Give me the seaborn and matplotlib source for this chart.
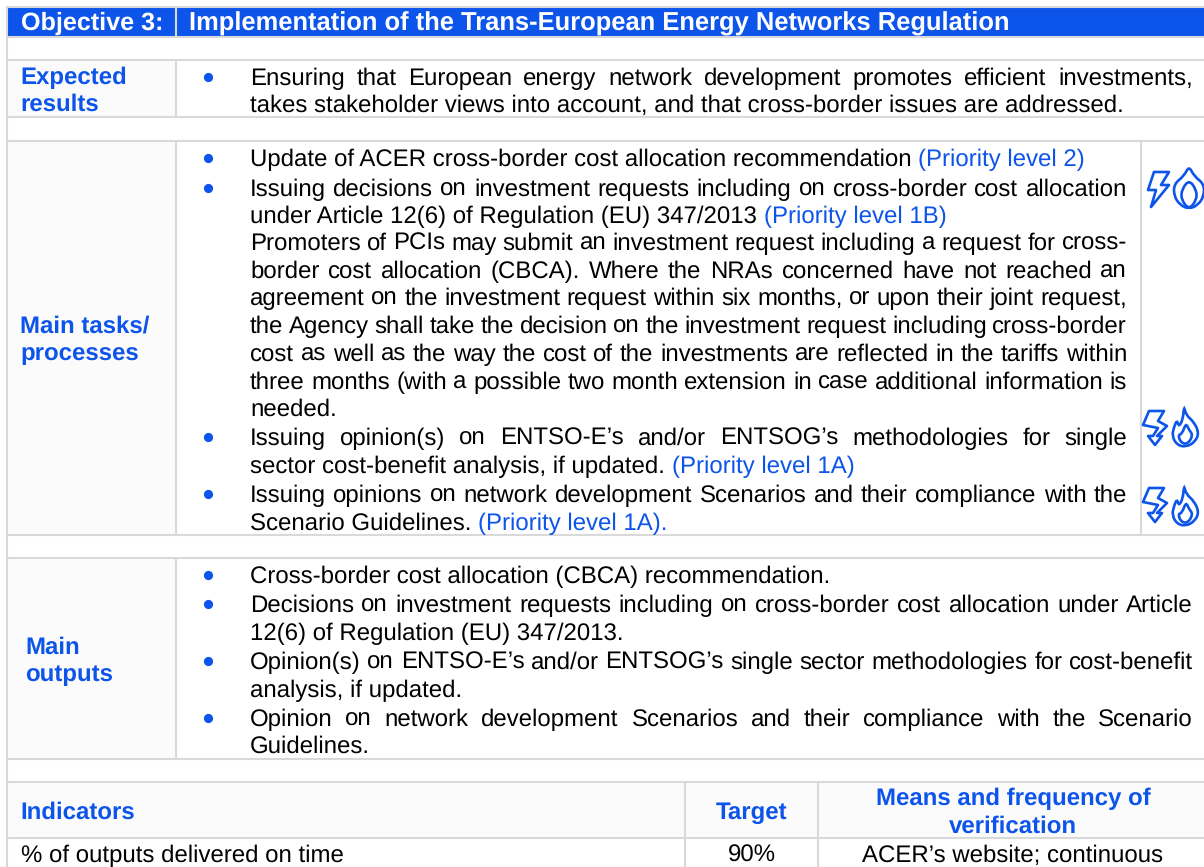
import matplotlib
matplotlib.use("Agg")
import matplotlib.pyplot as plt
import seaborn as sns
from matplotlib.path import Path
from matplotlib.patches import PathPatch

sns.set_theme(style="white")
plt.rcParams['font.family'] = ['Liberation Sans', 'DejaVu Sans']
plt.rcParams['text.hinting'] = 'no_hinting'

BLUE = '#0c54ea'
GRID = '#d9d9d9'
SHADE = '#fbfbfb'
FS = 17.25
FB = 17.3

fig = plt.figure(figsize=(12.04, 8.67), dpi=100)
ax = fig.add_axes([0, 0, 1, 1])
ax.set_xlim(0, 1204)
ax.set_ylim(867, 0)
ax.axis('off')
renderer = fig.canvas.get_renderer()

# text of the table
header_left = "Objective 3:"
header_right = "Implementation of the Trans-European Energy Networks Regulation"

# (y, text, coloured tail, justified, bullet)
expected_lines = [
    (77, "Ensuring that European energy network development promotes efficient investments,", "", True, True),
    (104, "takes stakeholder views into account, and that cross-border issues are addressed.", "", False, False),
]
tasks_lines = [
    (158, "Update of ACER cross-border cost allocation recommendation", "(Priority level 2)", False, True),
    (188, "Issuing decisions on investment requests including on cross-border cost allocation", "", True, True),
    (215, "under Article 12(6) of Regulation (EU) 347/2013", "(Priority level 1B)", False, False),
    (242, "Promoters of PCIs may submit an investment request including a request for cross-", "", True, False),
    (270, "border cost allocation (CBCA). Where the NRAs concerned have not reached an", "", True, False),
    (297, "agreement on the investment request within six months, or upon their joint request,", "", True, False),
    (325, "the Agency shall take the decision on the investment request including cross-border", "", True, False),
    (353, "cost as well as the way the cost of the investments are reflected in the tariffs within", "", True, False),
    (381, "three months (with a possible two month extension in case additional information is", "", True, False),
    (408, "needed.", "", False, False),
    (437, "Issuing opinion(s) on ENTSO-E\u2019s and/or ENTSOG\u2019s methodologies for single", "", True, True),
    (465, "sector cost-benefit analysis, if updated.", "(Priority level 1A)", False, False),
    (494, "Issuing opinions on network development Scenarios and their compliance with the", "", True, True),
    (522, "Scenario Guidelines.", "(Priority level 1A).", False, False),
]
outputs_lines = [
    (575, "Cross-border cost allocation (CBCA) recommendation.", "", False, True),
    (604, "Decisions on investment requests including on cross-border cost allocation under Article", "", True, True),
    (632, "12(6) of Regulation (EU) 347/2013.", "", False, False),
    (661, "Opinion(s) on ENTSO-E\u2019s and/or ENTSOG\u2019s single sector methodologies for cost-benefit", "", True, True),
    (689, "analysis, if updated.", "", False, False),
    (718, "Opinion on network development Scenarios and their compliance with the Scenario", "", True, True),
    (745, "Guidelines.", "", False, False),
]
section_labels = [(20, 84, "Expected"), (20, 111, "results"),
                  (20, 333, "Main tasks/"), (20, 360, "processes"),
                  (25, 654, "Main"), (25, 681, "outputs")]
indicator_head = ["Indicators", "Target", "Means and frequency of", "verification"]
indicator_row = ["% of outputs delivered on time", "90%", "ACER\u2019s website; continuous"]


def rect(x0, y0, x1, y1, color):
    ax.fill_between([x0, x1], y0, y1, color=color, lw=0, zorder=0)


def hline(y, x0=6, x1=1204):
    ax.plot([x0, x1], [y, y], color=GRID, lw=1.5, solid_capstyle='butt', zorder=1)


def vline(x, y0, y1):
    ax.plot([x, x], [y0, y1], color=GRID, lw=1.5, solid_capstyle='butt', zorder=1)


def width_of(s, **kw):
    t = ax.text(0, 0, s, fontsize=FS, **kw)
    w = t.get_window_extent(renderer).width
    t.remove()
    return w


def put_line(y, text, tail, justified, x0=250, x1=1127):
    y = y + 8
    if justified:
        words = text.split(' ')
        total = sum(width_of(w) for w in words)
        gap = (x1 - x0 - total) / (len(words) - 1)
        x = x0
        for w in words:
            ax.text(x, y, w, fontsize=FS, color='black', va='baseline')
            x += width_of(w) + gap
    else:
        ax.text(x0, y, text, fontsize=FS, color='black', va='baseline')
        if tail:
            ax.text(x0 + width_of(text) + width_of('n n') - 2 * width_of('n'), y, tail,
                    fontsize=FS, color=BLUE, va='baseline')


def bullet(y):
    ax.scatter([208], [y], s=44, color=BLUE, lw=0, zorder=3)


def outline(x, y, pts):
    p = Path([(x + a, y + b) for a, b in pts], closed=True)
    ax.add_patch(PathPatch(p, fc='none', ec=BLUE, lw=1.9, joinstyle='round', zorder=3))


def smooth(x, y, pts):
    # quadratic curve through the midpoints, the points act as controls
    mids = [((pts[i][0] + pts[(i + 1) % len(pts)][0]) / 2, (pts[i][1] + pts[(i + 1) % len(pts)][1]) / 2)
            for i in range(len(pts))]
    verts = [mids[-1]]
    codes = [Path.MOVETO]
    for i, c in enumerate(pts):
        verts += [c, mids[i]]
        codes += [Path.CURVE3, Path.CURVE3]
    p = Path([(x + a, y + b) for a, b in verts], codes)
    ax.add_patch(PathPatch(p, fc='none', ec=BLUE, lw=1.9, zorder=3))


def bolt_plain(x, y):
    outline(x, y, [(6, 0), (21, 0), (13, 13), (21, 13), (3, 35), (8, 18), (0, 18), (6, 0)])


def flame_plain(x, y):
    smooth(x, y, [(15, -3), (20, 7), (30, 15), (30, 27), (24, 36), (15, 40), (6, 36), (0, 27), (0, 15), (10, 7)])
    smooth(x, y, [(15, 11), (22, 20), (23, 30), (15, 41), (7, 30), (8, 20)])


def bolt_double(x, y):
    outline(x, y, [(6, 0), (21, 0), (15, 10), (24, 15), (14, 25), (19, 25), (12, 34), (5, 25),
                   (10, 25), (15, 17), (0, 14), (6, 0)])


def flame_double(x, y):
    smooth(x, y, [(11, -3), (13, 6), (21, 13), (26, 24), (22, 33), (13, 38), (4, 36), (-1, 27), (1, 18),
                  (4, 11), (6, 18), (10, 10)])
    smooth(x, y, [(13, 14), (16, 21), (20, 26), (15, 35), (8, 34), (5, 26), (9, 25)])


# shaded cells and grid
rect(6, 8, 175, 36, BLUE)
rect(177, 8, 1204, 36, BLUE)
for y0, y1 in [(60, 117), (141, 535), (558, 759)]:
    rect(6, y0, 175, y1, SHADE)
rect(6, 782, 1204, 838, SHADE)
for y in [7, 37, 60, 117, 141, 535, 558, 759, 782, 838]:
    hline(y)
vline(6.5, 7, 867)
vline(176, 7, 36)
for y0, y1 in [(60, 117), (141, 535), (558, 759)]:
    vline(176, y0, y1)
vline(1141, 141, 535)
vline(685, 782, 867)
vline(818, 782, 867)

ax.text(21, 30, header_left, fontsize=18.1, color='white', weight='bold', va='baseline')
ax.text(189, 30, header_right, fontsize=18.4, color='white', weight='bold', va='baseline')

for x, y, s in section_labels:
    ax.text(x, y, s, fontsize=FB, color=BLUE, weight='bold', va='baseline')

for y, text, tail, just, bul in expected_lines:
    put_line(y, text, tail, just, x1=1193)
    if bul:
        bullet(y)
for y, text, tail, just, bul in tasks_lines:
    put_line(y, text, tail, just)
    if bul:
        bullet(y)
for y, text, tail, just, bul in outputs_lines:
    put_line(y, text, tail, just, x1=1193)
    if bul:
        bullet(y)

bolt_plain(1148, 172)
flame_plain(1174, 169)
bolt_double(1143, 411)
flame_double(1173, 409)
bolt_double(1143, 488)
flame_double(1173, 488)

ax.text(20, 819, indicator_head[0], fontsize=FB, color=BLUE, weight='bold', va='baseline')
ax.text(752, 819, indicator_head[1], fontsize=FB, color=BLUE, weight='bold', ha='center', va='baseline')
ax.text(1013, 805, indicator_head[2], fontsize=FB, color=BLUE, weight='bold', ha='center', va='baseline')
ax.text(1013, 833, indicator_head[3], fontsize=FB, color=BLUE, weight='bold', ha='center', va='baseline')
ax.text(21, 862, indicator_row[0], fontsize=FS, color='black', va='baseline')
ax.text(752, 862, indicator_row[1], fontsize=FS, color='black', ha='center', va='baseline')
ax.text(1013, 862, indicator_row[2], fontsize=FS, color='black', ha='center', va='baseline')

fig.savefig('out.png', dpi=100, facecolor='white')
